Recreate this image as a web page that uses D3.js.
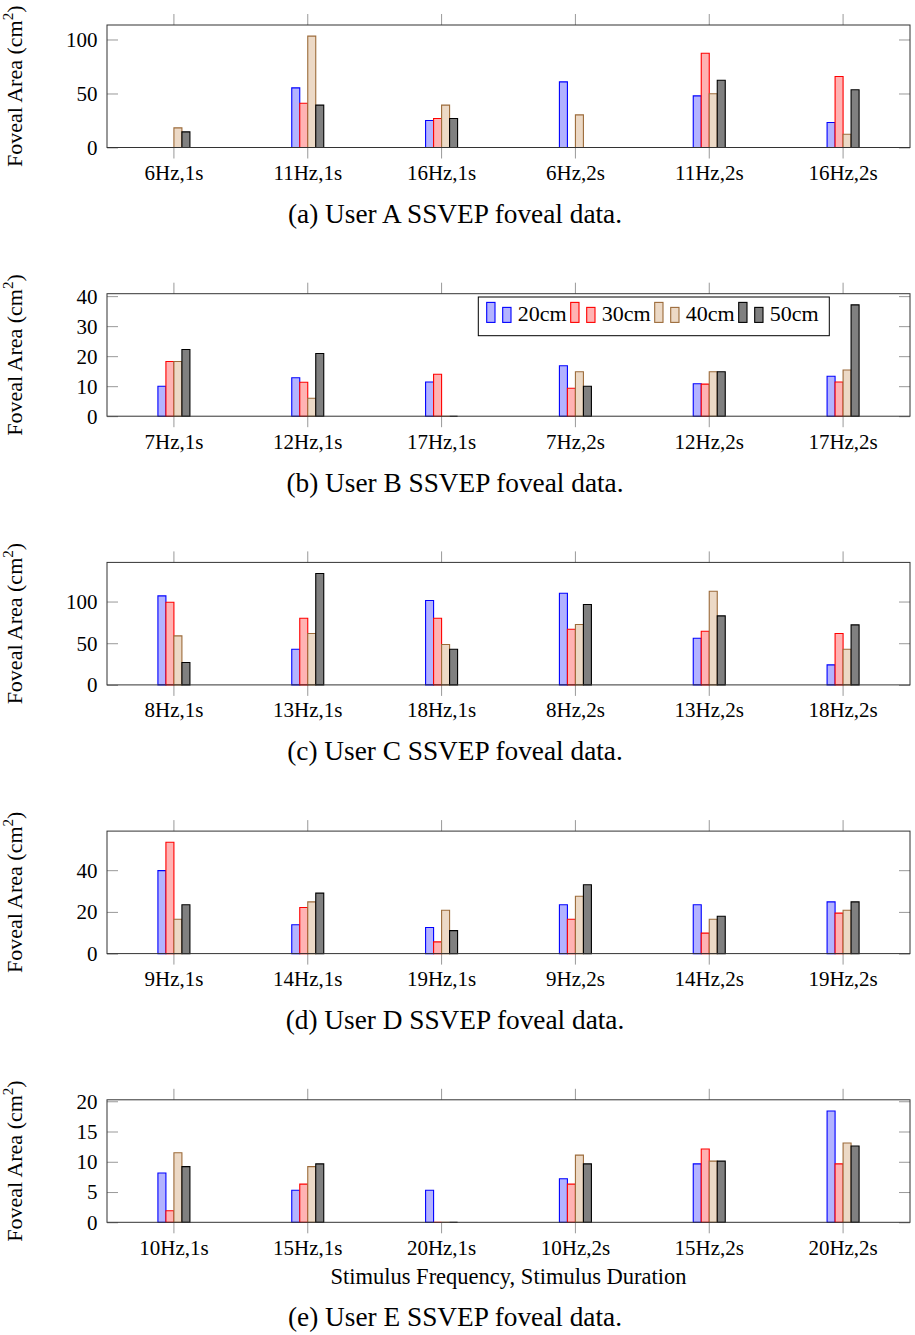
<!DOCTYPE html>
<html>
<head>
<meta charset="utf-8">
<script src="https://cdn.jsdelivr.net/npm/d3@7"></script>
<style>
body { margin: 0; background: #fff; }
text { font-family: "Liberation Serif", "Times New Roman", serif; fill: #000; }
</style>
</head>
<body>
<svg id="chart" width="915" height="1335"></svg>
<script>
// series (distance)
const series = ["20cm", "30cm", "40cm", "50cm"];

// user A
const catsA = ["6Hz,1s", "11Hz,1s", "16Hz,1s", "6Hz,2s", "11Hz,2s", "16Hz,2s"];
const valsA = [
	[0, 55.2, 25.0, 60.8, 47.8, 23.1],
	[0, 41.0, 26.9, 0, 87.3, 65.7],
	[18.2, 103.1, 39.2, 30.2, 49.7, 12.3],
	[14.5, 39.2, 26.9, 0, 62.3, 53.4]
];
const ticksA = [0, 50, 100];

// user B
const catsB = ["7Hz,1s", "12Hz,1s", "17Hz,1s", "7Hz,2s", "12Hz,2s", "17Hz,2s"];
const valsB = [
	[10.0, 12.8, 11.4, 16.8, 10.8, 13.3],
	[18.2, 11.3, 14.0, 9.3, 10.7, 11.4],
	[18.2, 6.0, 0, 14.8, 14.8, 15.4],
	[22.2, 20.9, 0, 10.0, 14.8, 37.1]
];
const ticksB = [0, 10, 20, 30, 40];

// user C
const catsC = ["8Hz,1s", "13Hz,1s", "18Hz,1s", "8Hz,2s", "13Hz,2s", "18Hz,2s"];
const valsC = [
	[106.8, 42.8, 101.2, 110.0, 56.0, 24.0],
	[99.2, 80.0, 80.0, 66.8, 64.4, 61.6],
	[58.8, 61.6, 48.4, 72.4, 112.4, 42.8],
	[26.8, 133.6, 42.8, 96.4, 82.8, 72.0]
];
const ticksC = [0, 50, 100];

// user D
const catsD = ["9Hz,1s", "14Hz,1s", "19Hz,1s", "9Hz,2s", "14Hz,2s", "19Hz,2s"];
const valsD = [
	[39.8, 13.8, 12.5, 23.4, 23.4, 24.8],
	[53.4, 22.1, 5.6, 16.5, 9.8, 19.4],
	[16.5, 24.8, 20.8, 27.5, 16.5, 20.8],
	[23.4, 29.0, 11.0, 33.0, 17.9, 24.8]
];
const ticksD = [0, 20, 40];

// user E
const catsE = ["10Hz,1s", "15Hz,1s", "20Hz,1s", "10Hz,2s", "15Hz,2s", "20Hz,2s"];
const valsE = [
	[8.15, 5.3, 5.3, 7.2, 9.65, 18.4],
	[1.9, 6.3, 0, 6.3, 12.1, 9.65],
	[11.5, 9.2, 0, 11.1, 10.1, 13.1],
	[9.2, 9.65, 0, 9.65, 10.1, 12.6]
];
const ticksE = [0, 5, 10, 15, 20];

const captions = [
	"(a) User A SSVEP foveal data.",
	"(b) User B SSVEP foveal data.",
	"(c) User C SSVEP foveal data.",
	"(d) User D SSVEP foveal data.",
	"(e) User E SSVEP foveal data."
];
const xTitle = "Stimulus Frequency, Stimulus Duration";

const fills = ["#b3b3ff", "#ffb3b3", "#ecd9c6", "#808080"];
const strokes = ["#0000ff", "#ff0000", "#9c6b3a", "#000000"];

const panels = [
	{cats: catsA, vals: valsA, ticks: ticksA},
	{cats: catsB, vals: valsB, ticks: ticksB},
	{cats: catsC, vals: valsC, ticks: ticksC},
	{cats: catsD, vals: valsD, ticks: ticksD},
	{cats: catsE, vals: valsE, ticks: ticksE}
];

const left = 107, right = 910;
const top0 = 25, step = 268.7, plotH = 122.5;
const tickLen = 11, tickColor = "#999";
const fs = 21;

const svg = d3.select("#chart");

panels.forEach((p, k) => {
	const top = top0 + k * step;
	const bottom = top + plotH;
	// pgfplots style: upper limit enlarged by 10%
	const ymax = d3.max(p.vals.flat()) * 1.1;

	const x = d3.scaleBand().domain(p.cats).range([left, right]);
	const xs = d3.scaleBand().domain(series).range([-16, 16]);
	const y = d3.scaleLinear().domain([0, ymax]).range([bottom, top]);

	const g = svg.append("g");

	// ticks
	const axT = g.append("g").attr("transform", `translate(0,${top})`)
		.call(d3.axisTop(x).tickSize(tickLen).tickFormat(""));
	const axB = g.append("g").attr("transform", `translate(0,${bottom})`)
		.call(d3.axisBottom(x).tickSize(tickLen).tickPadding(0));
	const axL = g.append("g").attr("transform", `translate(${left},0)`)
		.call(d3.axisLeft(y).tickValues(p.ticks).tickSize(-tickLen).tickPadding(9.5));
	const axR = g.append("g").attr("transform", `translate(${right},0)`)
		.call(d3.axisRight(y).tickValues(p.ticks).tickSize(-tickLen).tickFormat(""));
	[axT, axB, axL, axR].forEach(a => {
		a.select(".domain").remove();
		a.selectAll(".tick line").attr("stroke", tickColor).attr("stroke-width", 1);
		a.attr("font-family", null).attr("font-size", fs);
	});
	axB.selectAll(".tick text").attr("dy", null).attr("y", 32.5);
	axL.selectAll(".tick text").attr("dy", "0.33em");

	// bars
	series.forEach((s, i) => {
		g.append("g")
			.selectAll("path")
			.data(p.vals[i])
			.join("path")
			.attr("d", (d, j) => {
				const x0 = x(p.cats[j]) + x.bandwidth() / 2 + xs(s);
				return `M${x0},${y(0)}V${y(d)}H${x0 + xs.bandwidth()}V${y(0)}Z`;
			})
			.attr("fill", fills[i])
			.attr("stroke", strokes[i])
			.attr("stroke-width", 1.1);
	});

	// frame
	g.append("rect")
		.attr("x", left).attr("y", top)
		.attr("width", right - left).attr("height", plotH)
		.attr("fill", "none").attr("stroke", "#333").attr("stroke-width", 1);

	// y label
	const yl = g.append("text")
		.attr("transform", `translate(22,${(top + bottom) / 2}) rotate(-90)`)
		.attr("text-anchor", "middle")
		.attr("font-size", 22);
	yl.append("tspan").text("Foveal Area (cm");
	yl.append("tspan").attr("dy", -9).attr("font-size", 15).text("2");
	yl.append("tspan").attr("dy", 9).text(")");

	if (k == panels.length - 1) {
		g.append("text")
			.attr("x", (left + right) / 2)
			.attr("y", bottom + 62)
			.attr("text-anchor", "middle")
			.attr("font-size", 22.5)
			.text(xTitle);
	}

	g.append("text")
		.attr("x", 455)
		.attr("y", bottom + (k == panels.length - 1 ? 104 : 75.5))
		.attr("text-anchor", "middle")
		.attr("font-size", 27.3)
		.text(captions[k]);

	// legend only in user B
	if (k == 1) {
		const lx = 478.3, ly = top + 3.3;
		const lg = g.append("g");
		lg.append("rect")
			.attr("x", lx).attr("y", ly)
			.attr("width", 351).attr("height", 38.7)
			.attr("fill", "#fff").attr("stroke", "#000").attr("stroke-width", 1);
		const items = lg.selectAll("g.item")
			.data(series)
			.join("g")
			.attr("class", "item")
			.attr("transform", (d, i) => `translate(${lx + 8.4 + i * 84},${ly + 25.4})`);
		items.append("rect")
			.attr("x", 0).attr("y", -20).attr("width", 8.3).attr("height", 20)
			.attr("fill", (d, i) => fills[i]).attr("stroke", (d, i) => strokes[i]).attr("stroke-width", 1.1);
		items.append("rect")
			.attr("x", 16).attr("y", -15).attr("width", 8.3).attr("height", 15)
			.attr("fill", (d, i) => fills[i]).attr("stroke", (d, i) => strokes[i]).attr("stroke-width", 1.1);
		items.append("text")
			.attr("x", 31).attr("y", -1)
			.attr("font-size", 22)
			.text(d => d);
	}
});
</script>
</body>
</html>
